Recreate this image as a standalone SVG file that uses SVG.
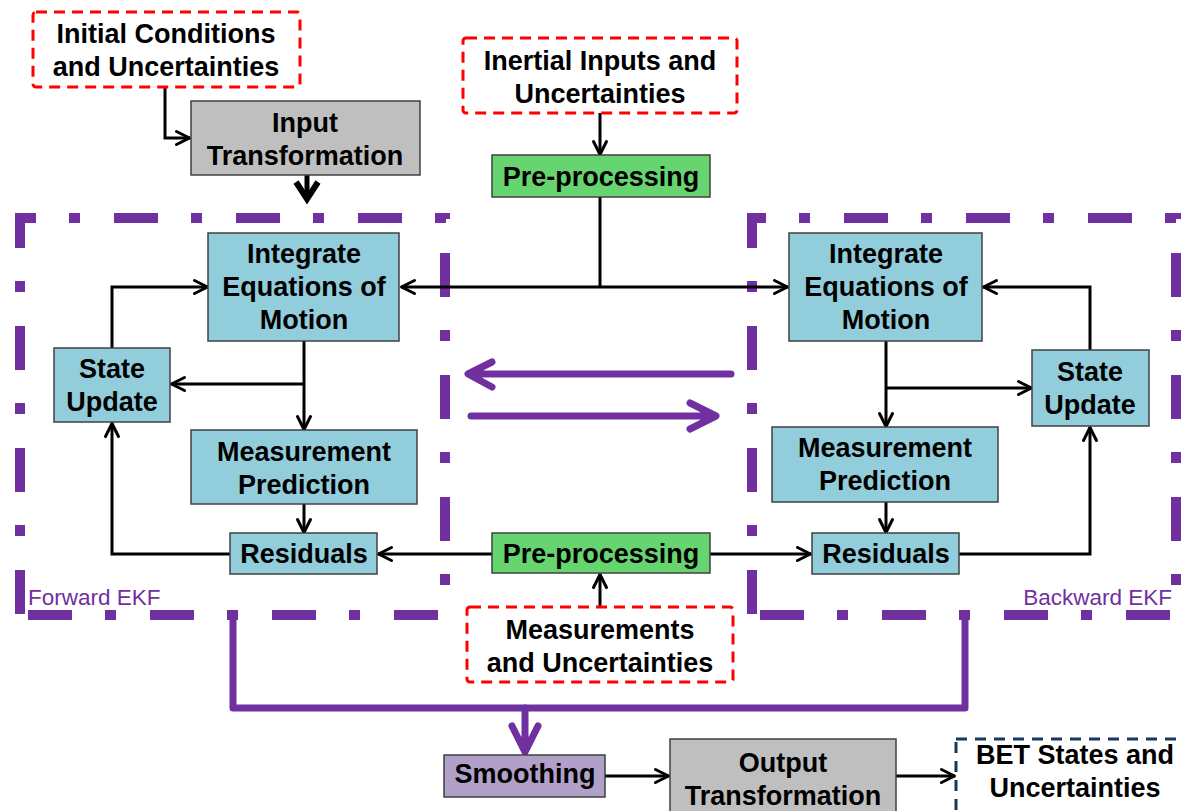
<svg xmlns="http://www.w3.org/2000/svg" width="1182" height="811" viewBox="0 0 1182 811">
<defs>
<marker id="arr" markerUnits="userSpaceOnUse" markerWidth="18" markerHeight="18" viewBox="0 0 18 18" refX="15.5" refY="8" orient="auto-start-reverse" overflow="visible">
<path d="M2,1.5 L15,8 L2,14.5" fill="none" stroke="#000" stroke-width="3" stroke-linejoin="round" stroke-linecap="round"/>
</marker>
</defs>
<style>
.t{font-family:"Liberation Sans",Arial,sans-serif;font-weight:bold;font-size:27px;text-anchor:middle;fill:#000}
.lbl{font-family:"Liberation Sans",Arial,sans-serif;font-size:22.5px;fill:#7030A0}
.blue{fill:#92CDDC;stroke:#404040;stroke-width:1.5}
.green{fill:#67D56F;stroke:#404040;stroke-width:1.5}
.gray{fill:#BFBFBF;stroke:#404040;stroke-width:1.5}
.lav{fill:#B1A0C7;stroke:#404040;stroke-width:1.5}
.red{fill:#fff;stroke:#FF0000;stroke-width:3;stroke-dasharray:11 7}
.navy{fill:#fff;stroke:#17375E;stroke-width:3;stroke-dasharray:11 8}
.c{fill:none;stroke:#000;stroke-width:3}
.ca{fill:none;stroke:#000;stroke-width:3;marker-end:url(#arr)}
.ekf{fill:none;stroke:#7030A0;stroke-width:10;stroke-dasharray:44 33 11 34}
.p{fill:none;stroke:#7030A0;stroke-width:7;stroke-linecap:round;stroke-linejoin:round}
</style>

<g id="forward-ekf">
<line class="ekf" x1="15" y1="218" x2="450" y2="218" stroke-dashoffset="23"/>
<line class="ekf" x1="445" y1="213" x2="445" y2="616" stroke-dashoffset="82"/>
<line class="ekf" x1="15" y1="615" x2="450" y2="615" stroke-dashoffset="109"/>
<line class="ekf" x1="20" y1="213" x2="20" y2="620" stroke-dashoffset="9"/>
<text class="lbl" x="28" y="605">Forward EKF</text>
</g>
<g id="backward-ekf">
<line class="ekf" x1="747" y1="218" x2="1181" y2="218" stroke-dashoffset="25"/>
<line class="ekf" x1="1176" y1="213" x2="1176" y2="616" stroke-dashoffset="82"/>
<line class="ekf" x1="747" y1="615" x2="1181" y2="615" stroke-dashoffset="109"/>
<line class="ekf" x1="752" y1="213" x2="752" y2="620" stroke-dashoffset="9"/>
<text class="lbl" x="1172" y="605" text-anchor="end">Backward EKF</text>
</g>

<g id="connectors">
<path class="ca" d="M165,87 V138 H190"/>
<path class="ca" d="M600,113 V155"/>
<path class="c" d="M600,197 V287"/>
<path class="c" d="M401,287 H788" marker-start="url(#arr)" marker-end="url(#arr)"/>
<path class="ca" d="M304,341 V430"/>
<path class="ca" d="M304,384 H171"/>
<path class="ca" d="M112,348 V287 H208"/>
<path class="ca" d="M304,504 V533"/>
<path class="ca" d="M230,554 H112 V423"/>
<path class="ca" d="M492,554 H378"/>
<path class="ca" d="M710,554 H811"/>
<path class="ca" d="M600,607 V574"/>
<path class="ca" d="M886,341 V427"/>
<path class="ca" d="M886,388 H1032"/>
<path class="ca" d="M1090,350 V287 H983"/>
<path class="ca" d="M886,502 V533"/>
<path class="ca" d="M959,554 H1090 V427"/>
<path class="ca" d="M605,776 H669"/>
<path class="ca" d="M896,776 H955"/>
<path fill="none" stroke="#000" stroke-width="5" d="M307,175 V199"/>
<path fill="none" stroke="#000" stroke-width="6" stroke-linejoin="miter" d="M296,182 L307,199 L318,182"/>
<path class="p" d="M731,374 H470 M492,362 L468,374 L492,387"/>
<path class="p" d="M471,416 H714 M690,403 L716,416 L690,429"/>
<path class="p" d="M233,615 V708 H965 V615"/>
<path class="p" d="M525,708 V751 M512,726 L525,752 L538,726"/>
</g>

<g id="initial-conditions">
<rect class="red" x="33" y="12" width="267" height="75" rx="3"/>
<text class="t" x="166" y="43">Initial Conditions</text>
<text class="t" x="166" y="76">and Uncertainties</text>
</g>
<g id="input-transformation">
<rect class="gray" x="191" y="101" width="229" height="74"/>
<text class="t" x="305" y="132">Input</text>
<text class="t" x="305" y="165">Transformation</text>
</g>
<g id="inertial-inputs">
<rect class="red" x="463" y="38" width="274" height="75" rx="3"/>
<text class="t" x="600" y="70">Inertial Inputs and</text>
<text class="t" x="600" y="103">Uncertainties</text>
</g>
<g id="preprocessing-top">
<rect class="green" x="492" y="155" width="218" height="42"/>
<text class="t" x="601" y="186">Pre-processing</text>
</g>

<g id="iem-forward">
<rect class="blue" x="208" y="233" width="191" height="108"/>
<text class="t" x="304" y="263">Integrate</text>
<text class="t" x="304" y="296">Equations of</text>
<text class="t" x="304" y="329">Motion</text>
</g>
<g id="state-update-forward">
<rect class="blue" x="54" y="348" width="116" height="74"/>
<text class="t" x="112" y="378">State</text>
<text class="t" x="112" y="411">Update</text>
</g>
<g id="measurement-prediction-forward">
<rect class="blue" x="191" y="430" width="226" height="74"/>
<text class="t" x="304" y="461">Measurement</text>
<text class="t" x="304" y="494">Prediction</text>
</g>
<g id="residuals-forward">
<rect class="blue" x="230" y="533" width="147" height="41"/>
<text class="t" x="304" y="563">Residuals</text>
</g>

<g id="preprocessing-bottom">
<rect class="green" x="492" y="533" width="218" height="40"/>
<text class="t" x="601" y="563">Pre-processing</text>
</g>
<g id="measurements">
<rect class="red" x="467" y="607" width="266" height="75" rx="3"/>
<text class="t" x="600" y="639">Measurements</text>
<text class="t" x="600" y="672">and Uncertainties</text>
</g>

<g id="iem-backward">
<rect class="blue" x="789" y="233" width="193" height="108"/>
<text class="t" x="886" y="263">Integrate</text>
<text class="t" x="886" y="296">Equations of</text>
<text class="t" x="886" y="329">Motion</text>
</g>
<g id="state-update-backward">
<rect class="blue" x="1032" y="350" width="117" height="76"/>
<text class="t" x="1090" y="381">State</text>
<text class="t" x="1090" y="414">Update</text>
</g>
<g id="measurement-prediction-backward">
<rect class="blue" x="772" y="427" width="226" height="75"/>
<text class="t" x="885" y="457">Measurement</text>
<text class="t" x="885" y="490">Prediction</text>
</g>
<g id="residuals-backward">
<rect class="blue" x="812" y="533" width="147" height="41"/>
<text class="t" x="886" y="563">Residuals</text>
</g>

<g id="smoothing">
<rect class="lav" x="444" y="755" width="161" height="42"/>
<text class="t" x="525" y="783">Smoothing</text>
</g>
<g id="output-transformation">
<rect class="gray" x="670" y="739" width="226" height="90"/>
<text class="t" x="783" y="772">Output</text>
<text class="t" x="783" y="805">Transformation</text>
</g>
<g id="bet-states">
<rect class="navy" x="956" y="739" width="240" height="90"/>
<text class="t" x="1075" y="764">BET States and</text>
<text class="t" x="1075" y="797">Uncertainties</text>
</g>
</svg>
